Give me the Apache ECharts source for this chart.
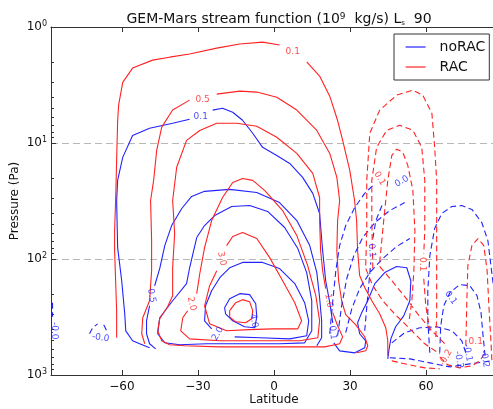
<!DOCTYPE html>
<html>
<head>
<meta charset="utf-8">
<script src="https://cdn.jsdelivr.net/npm/echarts@6/dist/echarts.min.js"></script>
<style>
  html, body { margin: 0; padding: 0; background: #fff; }
  #chart { width: 493px; height: 409px; }
</style>
</head>
<body>
<div id="chart"></div>
<script>
// Axis ticks
const latTicks = [-60, -30, 0, 30, 60];
const pressureTicks = [1, 10, 100, 1000];
const minorPressureTicks = [2,3,4,5,6,7,8,9, 20,30,40,50,60,70,80,90, 200,300,400,500,600,700,800,900];

// Contour lines, points are [latitude (deg), pressure (Pa)]
// noRAC, positive levels (solid)
const norac01a = [[-49.1,583],[-53.0,538],[-55.8,507],[-58.5,416],[-58.9,297],[-60.1,154],[-61.7,79.7],[-62.1,31.3],[-61.7,21.0],[-59.7,13.3],[-55.8,8.6],[-49.1,7.46],[-40.0,6.76],[-33.3,6.24]];
const norac01b = [[-24.2,5.21],[-20.3,5.01],[-16.3,5.43],[-12.4,6.37],[-8.4,8.24],[-4.5,10.9],[1.1,12.8],[6.2,15.0],[11.3,19.8],[15.3,27.2],[18.0,40.5],[19.2,85],[20.4,154],[22.0,238],[23.2,355]];
const norac01c = [[23.6,528],[25.9,619],[31.9,644],[35.8,583],[36.2,507],[33.8,441],[33.0,355],[34.6,290],[37.0,229],[39.8,163],[43.7,131],[48.4,116],[52.4,119],[54.0,154],[53.6,229],[51.2,309],[48.0,384],[46.1,488],[45.3,619],[44.9,726]];
const norac05a = [[-46.7,596],[-49.1,538],[-50.3,441],[-50.3,341],[-49.1,253]];
const norac05b = [[-47.1,170],[-45.1,121],[-43.1,76.6],[-40.4,51.5],[-36.4,36.7],[-32.5,28.9],[-27.4,26.1],[-17.5,25.1],[-6.8,26.7],[2.2,32.6],[9.0,46.6],[14.1,76.6],[16.9,131],[18.0,216],[18.8,341],[18.8,478],[16.9,560]];
const norac10 = [[-30.5,65.3],[-33.3,119],[-34.5,163],[-40.0,229],[-45.1,321],[-45.9,441],[-43.1,528],[-37.2,549],[-26.6,538],[-13.5,538],[2.2,538],[12.1,528],[14.9,416],[14.9,229],[12.9,131],[9.4,81.3],[4.2,53.5],[-2.5,38.9],[-9.6,34.6],[-16.7,35.3],[-23.4,42.2],[-27.4,51.5],[-30.5,65.3]];
const norac20 = [[-24.6,400],[-27.4,341],[-27.0,253],[-24.6,188],[-21.4,145],[-17.5,119],[-12.4,107],[-4.5,107],[2.2,121],[8.2,163],[12.1,238],[13.7,341],[12.9,459],[6.2,488],[-5.6,478],[-15.5,469]];
const norac40 = [[-19.5,263],[-17.5,220],[-13.5,199],[-9.6,203],[-7.2,243],[-6.8,315],[-7.6,392],[-11.6,384],[-16.3,341],[-19.1,297],[-19.5,263]];

// noRAC, negative levels (dashed)
const noracNeg1 = [[22.0,441],[23.2,229],[24.4,126],[25.9,76.6],[28.3,51.5],[31.9,35.9],[35.8,27.2],[39.8,22.3]];
const noracNeg2 = [[25.1,459],[26.7,253],[28.7,148],[31.5,93.5],[35.0,65.3],[39.8,48.5],[45.7,38.2],[51.6,32.6]];
const noracNeg3 = [[28.3,432],[30.7,268],[33.8,180],[37.8,131],[42.9,99.2],[48.4,78.1],[53.6,66.6]];
const noracNeg4 = [[61.5,644],[60.7,341],[60.7,188],[61.5,93.5],[63.4,54.6],[66.2,40.5],[70.2,35.3],[74.1,34.6],[78.1,37.4],[82.0,48.5],[84.4,69.3],[85.6,114],[86.8,188],[87.5,300]];
const noracNeg5 = [[65.4,644],[65.8,376],[67.0,253],[69.4,195],[73.3,166],[77.3,170],[80.1,207],[81.7,290],[82.5,459],[83.3,684]];
const noracNeg6 = [[46.5,528],[51.6,432],[57.5,392],[64.2,384],[70.2,416],[74.1,507],[75.7,644]];
const noracNeg7 = [[45.7,711],[53.6,726],[61.5,786],[69.4,851],[77.3,802],[85.9,755]];
const noracNeg8a = [[-72.8,441],[-71.6,392],[-69.6,362]];
const noracNeg8b = [[-67.2,369],[-66.0,416]];
const noracNeg9 = [[-87.4,238],[-87.4,315]];
const noracNeg10a = [[35.8,416],[37.0,207],[38.2,107]];
const noracNeg10b = [[39.0,66.6],[40.2,46.6],[42.6,34.6]];

// RAC, positive levels (solid)
const rac01a = [[-62.1,478],[-62.1,279],[-62.5,154],[-62.9,85],[-62.9,57],[-62.5,31.3],[-62.1,14.1],[-61.7,6.4],[-61.3,4.7],[-59.7,3.0],[-55.8,2.26],[-47.9,1.93],[-41.2,1.82],[-33.3,1.71],[-22.6,1.52],[-13.5,1.40],[-4.5,1.35],[2.2,1.43]];
const rac01b = [[12.9,2.0],[18.0,2.65],[22.0,3.95],[25.1,6.4],[27.1,9.5],[29.9,17.2],[31.8,31.3],[32.6,46.6],[33.0,85],[33.8,139],[35.8,176],[38.6,229],[41.7,297],[44.1,391],[44.9,507],[44.9,684]];
const rac05a = [[-51.0,538],[-52.2,441],[-51.8,321],[-49.1,229],[-48.3,126],[-48.3,69],[-48.7,31.3],[-47.5,21.0],[-46.3,11.6],[-44.3,7.3],[-40.0,5.2],[-33.3,4.27]];
const rac05b = [[-22.6,3.79],[-13.5,3.57],[-6.8,3.64],[1.1,4.03],[9.0,5.2],[16.9,7.8],[22.0,12.3],[24.8,19.8],[25.9,31.3],[25.1,46.6],[24.8,85],[25.5,154],[26.7,229],[28.3,302],[32.2,368],[35.8,468],[37.0,560],[36.2,619],[32.6,644]];
const rac10 = [[23.2,290],[25.1,376],[27.1,469],[25.9,538],[20.0,572],[10.1,572],[-5.6,572],[-21.4,572],[-35.3,560],[-41.2,549],[-44.3,507],[-45.9,416],[-45.1,327],[-42.0,258],[-40.0,207],[-40.0,119],[-39.2,60.3],[-40.0,31.3],[-38.4,16.2],[-34.5,9.5],[-29.3,7.8],[-22.6,6.76],[-14.7,6.76],[-6.8,7.17],[1.1,8.93],[9.0,12.3],[15.3,18.3],[18.0,29.5],[18.0,46.6],[18.4,85],[19.2,126],[20.4,180]];
const rac20 = [[-34.1,279],[-36.0,321],[-36.8,416],[-33.3,488],[-21.4,507],[-5.6,507],[10.1,507],[17.3,478],[18.0,341],[16.5,207],[13.3,114],[9.0,62.8],[3.4,38.2],[-3.7,25.6],[-8.4,21.0],[-12.4,20.2],[-16.3,21.9],[-20.3,29.5],[-24.6,46.6],[-27.4,79.7],[-29.3,134],[-30.5,199]];
const rac30 = [[-18.7,76.6],[-16.3,64.0],[-12.4,59.1],[-6.8,66.6],[-1.7,97.3],[3.4,154],[8.2,238],[10.9,341],[9.4,400],[-0.5,400],[-9.6,406],[-18.7,416],[-25.4,362],[-27.4,253],[-25.4,170],[-22.6,126]];
const rac40 = [[-17.5,279],[-15.1,238],[-12.4,224],[-9.6,234],[-8.4,279],[-8.8,327],[-11.2,355],[-15.1,348],[-17.5,315],[-17.5,279]];

// RAC, negative levels (dashed)
const racNeg1 = [[36.2,114],[36.6,56.9],[36.6,21.0],[37.8,8.24],[41.7,5.21],[48.4,3.87],[54.8,3.5],[58.7,3.87],[62.3,5.54],[63.4,10.9],[64.2,21.0],[64.2,56.9],[64.2,154],[64.2,309],[63.8,507]];
const racNeg2a = [[39.0,121],[38.6,46.6],[38.6,21.0],[40.5,10.9],[44.5,7.77],[49.6,7.03],[54.8,7.77],[58.3,10.9],[59.5,21.0],[59.5,56.9],[59.1,89.8]];
const racNeg2b = [[59.1,148],[59.9,253],[61.5,416]];
const racNeg3 = [[41.7,107],[43.3,46.6],[44.9,21.0],[46.5,12.8],[48.4,11.3],[50.8,12.0],[52.8,15.6],[54.8,25.6],[55.6,56.9],[55.2,126],[54.4,229],[53.2,355]];
const racNeg4 = [[36.2,121],[39.0,170],[42.9,229],[47.6,297],[53.6,400],[59.5,538],[65.4,657]];
const racNeg5 = [[41.7,116],[46.5,154],[51.6,211],[56.7,297],[62.3,416],[67.4,538]];
const racNeg6 = [[75.7,560],[76.1,229],[76.5,114],[78.1,76.6],[80.5,66.6],[82.8,76.6],[84.1,126],[84.8,253],[85.6,507],[86.0,755]];
const racNeg7 = [[65.4,698],[68.6,818],[73.3,868],[78.1,834],[81.2,755],[83.3,644]];
const racNeg8 = [[46.5,755],[53.6,818],[59.5,868],[65.4,885]];

// Contour level labels: [latitude, pressure, text]
const noracLabels = [[-28.9,5.88,'0.1'],[-48.3,207,'0.5'],[23.2,432,'0.1'],[-8.0,341,'4.0'],[-22.2,441,'2.0'],[50.4,21.4,'0.0'],[38.6,84.6,'0.1'],[69.8,216,'0.1'],[-68.4,478,'-0.0'],[-86.6,416,'-0.0'],[72.9,740,'-0.2'],[76.5,644,'-0.1'],[83.2,726,'-0.2']];
const noracLabelAngles = [0, -80, -85, -80, 60, 30, -85, -55, -8, -90, -80, -80, -80];
const racLabels = [[7.4,1.64,'0.1'],[-28.2,4.19,'0.5'],[-20.6,99.2,'3.0'],[-32.5,243,'2.0'],[21.6,229,'1.0'],[41.7,20.2,'0.1'],[58.7,111,'0.1'],[67.8,711,'-0.2'],[79.6,518,'0.1']];
const racLabelAngles = [0, 0, -78, -78, -80, -58, -90, 60, 0];

const BLUE = '#2222ff';
const RED = '#ff2222';
const FONT = 'DejaVu Sans';

function joinSegments(segs) {
  const out = [];
  segs.forEach((s, i) => {
    if (i > 0) out.push(['-', '-']);
    s.forEach(p => out.push(p));
  });
  return out;
}

function lineSeries(name, color, segs, dashed) {
  return {
    name: name,
    type: 'line',
    xAxisIndex: 0,
    yAxisIndex: 0,
    data: joinSegments(segs),
    symbol: 'none',
    showSymbol: false,
    connectNulls: false,
    clip: true,
    animation: false,
    itemStyle: { color: color },
    lineStyle: { color: color, width: 1.1, type: dashed ? [6, 3.5] : 'solid' },
    z: 3
  };
}

function labelSeries(labels, angles, color) {
  return {
    type: 'scatter',
    xAxisIndex: 0,
    yAxisIndex: 0,
    silent: true,
    animation: false,
    symbolSize: 1,
    itemStyle: { color: 'rgba(0,0,0,0)' },
    label: {
      show: true, position: 'inside', formatter: '{b}',
      fontSize: 9, fontFamily: FONT, color: color
    },
    data: labels.map((l, i) => ({ value: [l[0], l[1]], name: l[2], label: { rotate: angles[i] } })),
    z: 5
  };
}

const chart = echarts.init(document.getElementById('chart'), null, { renderer: 'canvas' });

chart.setOption({
  backgroundColor: '#fff',
  animation: false,
  title: {
    text: 'GEM-Mars stream function (10{sup|9}  kg/s) L{sub|s}  90',
    left: 274, top: 7, textAlign: 'center',
    textStyle: {
      fontSize: 14, fontWeight: 'normal', color: '#111', fontFamily: FONT,
      rich: {
        sup: { fontSize: 9, fontFamily: FONT, color: '#111', verticalAlign: 'top', padding: [0, 0, 6, 0] },
        sub: { fontSize: 7, fontFamily: FONT, color: '#111', verticalAlign: 'bottom', padding: [5, 0, 0, 0] }
      }
    }
  },
  legend: {
    data: ['noRAC', 'RAC'],
    orient: 'vertical',
    left: 394, top: 34,
    itemWidth: 20, itemHeight: 14, itemGap: 6,
    padding: [6, 4, 6, 11],
    borderColor: '#333', borderWidth: 1, borderRadius: 0,
    backgroundColor: '#fff',
    itemStyle: { opacity: 0, borderWidth: 0 },
    lineStyle: { width: 1.2 },
    textStyle: { fontSize: 14, color: '#111', fontFamily: FONT, padding: [0, 0, 0, 9] }
  },
  grid: { left: 51, right: -4, top: 27, bottom: 34, containLabel: false, outerBoundsMode: 'none' },
  xAxis: [
    {
      type: 'value', position: 'bottom', min: -88, max: 88,
      name: 'Latitude', nameLocation: 'middle', nameGap: 19, nameMoveOverlap: false,
      nameTextStyle: { fontSize: 12, color: '#111', fontFamily: FONT },
      axisLine: { show: true, onZero: false, lineStyle: { color: '#333', width: 1 } },
      axisTick: { show: true, inside: true, length: 5, customValues: latTicks, lineStyle: { color: '#333' } },
      axisLabel: {
        customValues: latTicks, fontSize: 12, color: '#111', fontFamily: FONT, margin: 6,
        formatter: v => String(v).replace('-', '\u2212')
      },
      splitLine: { show: false }
    },
    {
      type: 'value', position: 'top', min: -88, max: 88,
      axisLine: { show: true, onZero: false, lineStyle: { color: '#333', width: 1 } },
      axisTick: { show: true, inside: true, length: 5, customValues: latTicks, lineStyle: { color: '#333' } },
      axisLabel: { show: false },
      splitLine: { show: false }
    }
  ],
  yAxis: [
    {
      type: 'log', logBase: 10, min: pressureTicks[0], max: pressureTicks[pressureTicks.length - 1],
      inverse: true, position: 'left',
      name: 'Pressure (Pa)', nameLocation: 'middle', nameGap: 30, nameRotate: 90, nameMoveOverlap: false,
      nameTextStyle: { fontSize: 12, color: '#111', fontFamily: FONT },
      axisLine: { show: true, onZero: false, lineStyle: { color: '#333', width: 1 } },
      axisTick: { show: true, inside: true, length: 5, lineStyle: { color: '#333' } },
      axisLabel: {
        fontSize: 12, color: '#111', fontFamily: FONT, margin: 4,
        formatter: v => '10{sup|' + Math.round(Math.log10(v)) + '}',
        rich: { sup: { fontSize: 8, fontFamily: FONT, color: '#111', verticalAlign: 'top', padding: [0, 0, 6, 0] } }
      },
      splitLine: { show: true, lineStyle: { type: [7, 4], color: '#b8b8b8', width: 1 } }
    },
    {
      // minor ticks of the pressure axis, placed in log10 space
      type: 'value', min: 0, max: 3, inverse: true, position: 'left',
      axisLine: { show: false, onZero: false },
      axisLabel: { show: false },
      splitLine: { show: false },
      axisTick: { show: true, inside: true, length: 3, customValues: minorPressureTicks.map(Math.log10), lineStyle: { color: '#333' } }
    }
  ],
  series: [
    lineSeries('noRAC', BLUE, [norac01a, norac01b, norac01c, norac05a, norac05b, norac10, norac20, norac40], false),
    lineSeries('RAC', RED, [rac01a, rac01b, rac05a, rac05b, rac10, rac20, rac30, rac40], false),
    lineSeries('noRAC', BLUE, [noracNeg1, noracNeg2, noracNeg3, noracNeg4, noracNeg5, noracNeg6, noracNeg7, noracNeg8a, noracNeg8b, noracNeg9, noracNeg10a, noracNeg10b], true),
    lineSeries('RAC', RED, [racNeg1, racNeg2a, racNeg2b, racNeg3, racNeg4, racNeg5, racNeg6, racNeg7, racNeg8], true),
    labelSeries(noracLabels, noracLabelAngles, BLUE),
    labelSeries(racLabels, racLabelAngles, RED)
  ]
});
</script>
</body>
</html>
